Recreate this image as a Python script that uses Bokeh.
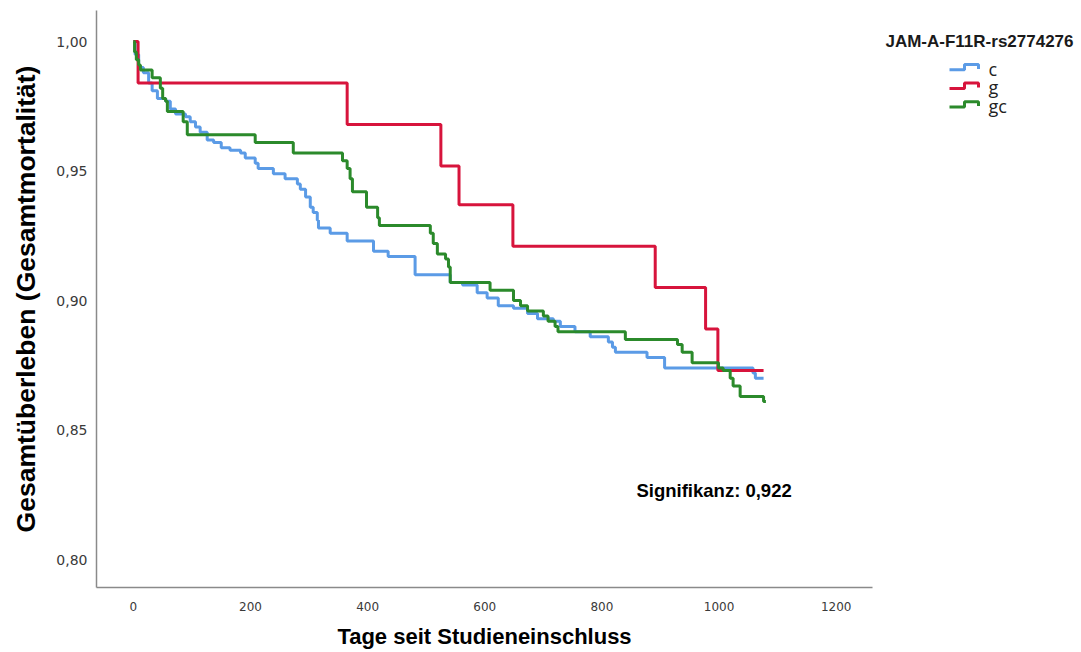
from bokeh.plotting import figure
from bokeh.models import Range1d, FixedTicker, CustomJSTickFormatter, Label
from bokeh.layouts import row
from bokeh.core.properties import value
from bokeh.embed import file_html
from bokeh.resources import INLINE

# ---------------- data ----------------
groups = ["c", "g", "gc"]
colors = ["#5B9BE6", "#D7143C", "#2B8A2B"]
legend_title = "JAM-A-F11R-rs2774276"

c_days = [0, 3, 9, 17, 26, 32, 41, 55, 63, 72, 89, 97, 106, 114, 126, 137, 150, 165, 183, 191,
          208, 213, 239, 259, 280, 285, 294, 302, 307, 314, 316, 336, 365, 410, 435, 481, 541, 562, 587, 604,
          623, 649, 673, 690, 717, 729, 754, 780, 811, 818, 823, 877, 907, 1058, 1062, 1076]
c_surv = [1.0, 0.995, 0.990, 0.988, 0.984, 0.981, 0.978, 0.977, 0.974, 0.972, 0.971, 0.969, 0.967, 0.965, 0.962, 0.961, 0.959, 0.958, 0.957, 0.955,
          0.953, 0.951, 0.949, 0.947, 0.945, 0.943, 0.940, 0.936, 0.934, 0.931, 0.928, 0.926, 0.923, 0.919, 0.917, 0.910, 0.907, 0.906, 0.903, 0.901,
          0.898, 0.897, 0.895, 0.893, 0.892, 0.890, 0.888, 0.886, 0.884, 0.882, 0.880, 0.878, 0.874, 0.872, 0.870, 0.870]

g_days = [0, 8, 365, 525, 556, 648, 891, 977, 998, 1076]
g_surv = [1.0, 0.984, 0.968, 0.952, 0.937, 0.921, 0.905, 0.889, 0.873, 0.873]

gc_days = [0, 2, 5, 9, 12, 32, 46, 50, 55, 58, 85, 92, 208, 273, 357, 365, 370, 374, 398, 417,
           420, 507, 512, 519, 533, 538, 541, 609, 649, 661, 673, 700, 708, 720, 725, 840, 929, 937, 954, 999,
           1007, 1019, 1024, 1036, 1076, 1080]
gc_surv = [1.0, 0.996, 0.993, 0.991, 0.989, 0.986, 0.982, 0.978, 0.977, 0.973, 0.969, 0.964, 0.961, 0.957, 0.954, 0.951, 0.947, 0.942, 0.936, 0.932,
           0.929, 0.926, 0.922, 0.918, 0.916, 0.913, 0.907, 0.904, 0.900, 0.898, 0.896, 0.894, 0.892, 0.890, 0.888, 0.885, 0.883, 0.880, 0.876, 0.874,
           0.873, 0.870, 0.867, 0.863, 0.861, 0.861]

x_ticks = [0, 200, 400, 600, 800, 1000, 1200]
y_ticks = [0.80, 0.85, 0.90, 0.95, 1.00]
x_label = "Tage seit Studieneinschluss"
y_label = "Gesamtüberleben (Gesamtmortalität)"
sig_text = "Signifikanz: 0,922"
sig_pos = (859, 0.8266)

series = [(c_days, c_surv), (g_days, g_surv), (gc_days, gc_surv)]

# ---------------- main plot ----------------
p = figure(width=874, height=652, x_range=Range1d(-63, 1262), y_range=Range1d(0.7892, 1.012),
           output_backend="svg", toolbar_location=None,
           min_border_left=96, min_border_right=2, min_border_top=10, min_border_bottom=65)
p.outline_line_color = None
p.grid.visible = False
p.background_fill_color = "white"

for (d, s), col in zip(series, colors):
    p.step(d, s, mode="after", line_color=col, line_width=3)

p.xaxis.ticker = FixedTicker(ticks=x_ticks)
p.yaxis.ticker = FixedTicker(ticks=y_ticks)
p.yaxis.formatter = CustomJSTickFormatter(code="return tick.toFixed(2).replace('.', ',');")
for ax in (p.xaxis[0], p.yaxis[0]):
    ax.major_tick_line_color = None
    ax.minor_tick_line_color = None
    ax.axis_line_color = "#8a8a8a"
    ax.axis_line_width = 1.5
    ax.major_label_text_font = "DejaVu Sans"
    ax.major_label_text_color = "#3a3a3a"
    ax.axis_label_text_font = "Liberation Sans"
    ax.axis_label_text_font_style = "bold"
    ax.axis_label_text_color = "#000000"

p.yaxis.major_label_text_font_size = "14px"
p.yaxis.major_label_standoff = 3
p.yaxis.axis_label = y_label
p.yaxis.axis_label_text_font_size = "26.5px"
p.yaxis.axis_label_standoff = 12

p.xaxis.major_label_text_font_size = "12px"
p.xaxis.major_label_standoff = 8
p.xaxis.axis_label = x_label
p.xaxis.axis_label_text_font_size = "22px"
p.xaxis.axis_label_standoff = 10

p.add_layout(Label(x=sig_pos[0], y=sig_pos[1], text=sig_text, text_font="Liberation Sans",
                   text_font_style="bold", text_font_size="18.5px", text_baseline="middle",
                   text_color="#000000"))

# ---------------- legend panel ----------------
lg = figure(width=206, height=652, x_range=Range1d(0, 206), y_range=Range1d(652, 0),
            output_backend="svg", toolbar_location=None, min_border=0,
            x_axis_location=None, y_axis_location=None)
lg.outline_line_color = None
lg.grid.visible = False

lg.text(x=[105], y=[35], text=[legend_title], text_align="center", text_baseline="middle",
        text_font=value("Liberation Sans"), text_font_style="bold", text_font_size="17px",
        text_color="#1a1a1a")
for i, (name, col) in enumerate(zip(groups, colors)):
    y0 = 67 + 21 * i
    lg.line([75, 90, 90, 104, 104], [y0, y0, y0 - 6, y0 - 6, y0 - 1], line_color=col, line_width=3)
    lg.text(x=[114], y=[y0 - 1], text=[name], text_align="left", text_baseline="middle",
            text_font=value("Open Sans"), text_font_size="18px", text_color="#222222")

layout = row(p, lg)
open("out.html", "w").write(file_html(layout, INLINE))
